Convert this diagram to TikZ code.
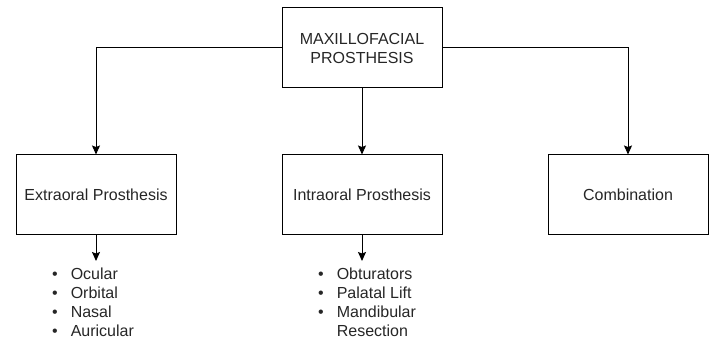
\documentclass[tikz,border=0pt]{standalone}
\usepackage{fontspec}
\setmainfont{Liberation Sans}
\usetikzlibrary{arrows.meta}
\begin{document}
\begin{tikzpicture}[x=1pt,y=-1pt,
  box/.style={draw=black,line width=1pt,minimum width=160pt,minimum height=80pt,inner sep=0pt,align=center,font=\fontsize{16}{19}\selectfont,text=black!85},
  conn/.style={line width=1pt,-{Stealth[length=9pt,width=8pt,inset=1.5pt]}},
  listtext/.style={anchor=north west,inner sep=0pt,font=\fontsize{16}{19}\selectfont,text=black!85}]
\useasboundingbox (0,0) rectangle (713,342);
\node[box] (top) at (362,48) {MAXILLOFACIAL\\PROSTHESIS};
\node[box] (ext) at (96,195) {Extraoral Prosthesis};
\node[box] (int) at (362,195) {Intraoral Prosthesis};
\node[box] (comb) at (628,195) {Combination};
\draw[conn] (top.west) -| (ext.north);
\draw[conn] (top.south) -- (int.north);
\draw[conn] (top.east) -| (comb.north);
\coordinate (extend) at (96,261);
\coordinate (intend) at (362,261);
\draw[conn] (ext.south) -- (extend);
\draw[conn] (int.south) -- (intend);
\node[listtext] (extlist) at (52,266) {\begin{tabular}[t]{@{}l@{\hspace{13pt}}l@{}}•&Ocular\\•&Orbital\\•&Nasal\\•&Auricular\end{tabular}};
\node[listtext] (intlist) at (318,266) {\begin{tabular}[t]{@{}l@{\hspace{13pt}}l@{}}•&Obturators\\•&Palatal Lift\\•&Mandibular\\&Resection\end{tabular}};
\end{tikzpicture}
\end{document}
